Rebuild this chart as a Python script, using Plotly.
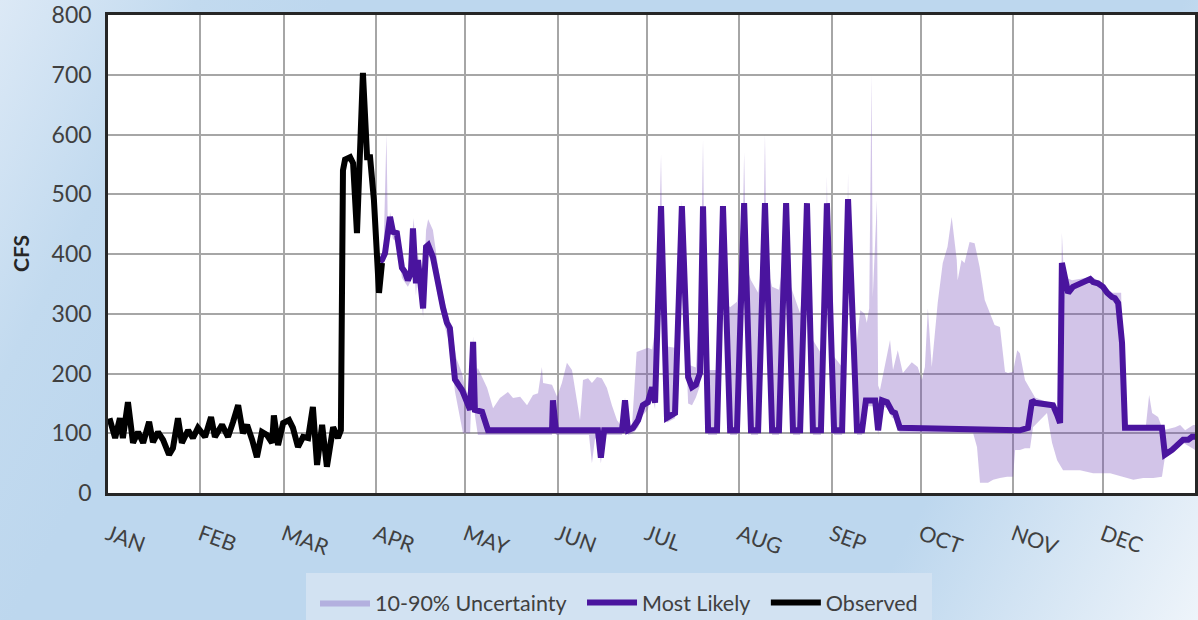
import base64
import plotly.graph_objects as go

# ---------------- data (day of year, CFS) ----------------
MONTH_START = [0, 31, 59, 90, 120, 151, 181, 212, 243, 273, 304, 334]
MONTHS = ["JAN", "FEB", "MAR", "APR", "MAY", "JUN", "JUL", "AUG", "SEP", "OCT", "NOV", "DEC"]

obs_day = [0.5, 2.4, 4.0, 5.0, 6.7, 8.4, 10.1, 11.8, 13.8, 15.1, 16.8, 18.5, 20.5, 21.8, 23.5,
           24.8, 26.9, 28.5, 30.2, 32.6, 34.6, 35.9, 38.3, 40.3, 42.0, 43.7, 45.3, 46.7, 48.4,
           50.0, 51.7, 53.4, 55.1, 55.7, 57.1, 58.8, 60.8, 62.1, 63.8, 65.5, 67.2, 68.8, 70.2,
           71.9, 73.5, 75.6, 77.2, 78.2, 78.9, 79.6, 81.3, 82.3, 83.6, 85.6, 87.0, 88.0, 89.3,
           90.3, 91.0, 92.0]
obs_cfs = [125, 92, 125, 92, 152, 84, 102, 84, 119, 85, 102, 89, 64, 75, 125,
           84, 105, 92, 109, 94, 127, 94, 114, 94, 119, 147, 100, 114, 89,
           60, 102, 97, 84, 130, 80, 117, 122, 109, 77, 94, 92, 144, 47,
           114, 44, 110, 92, 105, 540, 558, 562, 552, 435, 703, 562, 562, 490,
           368, 335, 385]

ml_day = [91.3, 92.0, 93.0, 94.7, 95.7, 97.0, 98.7, 99.7, 100.7, 101.7,
          102.4, 103.4, 104.1, 105.8, 106.8, 107.5, 109.1, 110.8, 112.5, 113.8,
          114.8, 116.0, 116.5, 118.9, 120.6, 121.6, 122.6, 123.2, 125.6, 127.6,
          149.1, 149.4, 150.4, 164.5, 165.5, 166.6, 172.6, 173.6, 174.6, 176.3,
          178.0, 179.6, 181.3, 182.7, 183.7, 185.7, 187.7, 190.4, 192.7, 194.8,
          196.1, 197.4, 198.8, 199.8, 201.5, 204.5, 206.5, 208.9, 211.2, 213.6,
          215.9, 218.3, 220.6, 223.0, 225.3, 227.7, 230.0, 232.4, 234.7, 236.7,
          239.4, 241.4, 243.8, 246.5, 248.5, 251.5, 253.2, 254.5, 257.6, 258.6,
          259.9, 261.6, 263.3, 264.3, 265.9, 306.2, 308.9, 310.3, 311.3, 317.3,
          318.7, 319.7, 320.3, 322.4, 324.0, 325.4, 327.1, 328.7, 329.8, 330.8,
          332.4, 334.1, 335.5, 337.1, 338.1, 339.2, 340.5, 341.5, 353.9, 354.9,
          357.3, 361.0, 362.7, 364.0, 365.0]
ml_cfs = [387, 390, 401, 462, 437, 435, 377, 370, 356, 368,
          443, 351, 390, 309, 412, 415, 395, 345, 310, 285,
          276, 215, 190, 172, 151, 139, 253, 139, 136, 105,
          105, 155, 105, 105, 59, 105, 105, 155, 105, 109,
          122, 147, 152, 177, 151, 480, 126, 134, 480, 194,
          177, 181, 201, 480, 105, 105, 480, 105, 105, 485,
          105, 105, 485, 105, 105, 485, 105, 105, 485, 105,
          105, 485, 105, 105, 492, 105, 105, 155, 155, 105,
          155, 152, 136, 134, 109, 105, 109, 155, 151, 147,
          131, 117, 385, 335, 345, 348, 350, 353, 358, 353,
          351, 345, 335, 328, 326, 318, 251, 109, 109, 64,
          72, 89, 89, 94, 94]

band_hi_day = [91.3, 92.5, 93.5, 94.0, 94.7, 95.7, 97.0, 98.7, 100.7, 102.0, 102.7, 103.4, 104.1,
               105.8, 106.8, 107.5, 109.1, 110.8, 112.5, 114.0, 115.5, 117.0, 118.9, 120.0, 121.6,
               122.6, 123.2, 124.2, 127.3, 129.3, 131.6, 134.3, 136.0, 138.4, 140.7, 142.7, 144.4,
               145.7, 146.1, 149.1, 150.8, 152.4, 154.1, 155.8, 157.5, 158.5, 159.5, 161.2, 162.5,
               164.2, 165.8, 167.5, 169.2, 170.9, 172.6, 173.6, 174.6, 176.0, 177.5, 181.3, 182.7,
               184.5, 185.7, 186.5, 187.7, 190.4, 192.0, 192.7, 193.5, 194.8, 197.4, 199.0, 199.8,
               200.5, 201.5, 204.5, 206.0, 206.5, 207.2, 208.9, 211.2, 213.0, 213.6, 214.3, 215.9,
               218.3, 220.0, 220.6, 221.2, 223.0, 225.3, 227.2, 227.7, 228.3, 230.0, 232.4, 234.2,
               234.7, 235.3, 236.7, 239.4, 241.0, 241.4, 242.0, 243.8, 246.5, 248.2, 248.5, 249.0,
               250.9, 252.6, 254.1, 254.8, 255.6, 256.4, 256.8, 258.2, 258.6, 259.2, 262.6, 263.6,
               265.2, 266.9, 269.9, 271.9, 273.3, 274.3, 275.3, 276.6, 278.6, 280.3, 281.9, 283.3,
               285.0, 285.3, 286.6, 287.6, 289.3, 291.0, 292.7, 294.4, 296.1, 297.7, 299.5, 301.2,
               302.2, 303.9, 305.3, 306.2, 307.9, 310.3, 311.3, 313.9, 317.3, 319.7, 320.3, 321.0,
               323.7, 330.4, 333.7, 337.1, 340.2, 340.6, 341.0, 341.5, 348.5, 349.6, 350.6, 352.6,
               354.3, 358.3, 360.0, 361.7, 363.4, 364.4, 365.0]
band_hi_cfs = [392, 400, 600, 430, 470, 445, 440, 385, 365, 420, 460, 360, 400,
               320, 440, 458, 440, 380, 330, 300, 270, 225, 200, 175, 160,
               262, 200, 209, 176, 142, 159, 169, 159, 161, 147, 164, 167,
               211, 184, 181, 161, 184, 218, 206, 152, 122, 189, 192, 184,
               194, 192, 176, 147, 122, 110, 160, 112, 115, 236, 243, 240,
               300, 566, 300, 245, 243, 400, 490, 300, 215, 210, 350, 590,
               300, 206, 206, 380, 485, 320, 311, 320, 400, 570, 380, 356,
               335, 400, 600, 380, 345, 340, 400, 490, 360, 335, 301, 380,
               490, 300, 256, 234, 380, 530, 300, 228, 211, 400, 535, 300,
               228, 306, 300, 285, 309, 700, 328, 490, 180, 172, 256, 206,
               239, 201, 219, 211, 189, 211, 309, 211, 318, 385, 412, 462,
               390, 356, 390, 385, 420, 418, 378, 323, 301, 281, 278, 203,
               201, 203, 239, 234, 189, 169, 160, 155, 150, 130, 435, 362,
               356, 362, 351, 335, 335, 260, 130, 112, 112, 164, 134, 127,
               105, 110, 114, 105, 110, 114, 114]

band_lo_day = [91.3, 92.0, 93.0, 94.7, 95.7, 97.0, 98.7, 100.7, 101.7, 102.4, 103.4, 104.1,
               105.8, 106.8, 107.5, 109.1, 110.8, 112.5, 113.8, 114.8, 116.5, 117.8, 119.2,
               121.6, 122.6, 123.2, 124.2, 149.1, 149.4, 150.4, 161.5, 162.5, 163.5, 164.5,
               165.5, 166.6, 172.6, 173.6, 174.6, 176.3, 178.0, 179.6, 181.3, 182.7, 183.7,
               185.7, 187.7, 190.4, 192.7, 194.8, 196.1, 197.4, 198.8, 199.8, 201.5, 204.5,
               206.5, 208.9, 211.2, 213.6, 215.9, 218.3, 220.6, 223.0, 225.3, 227.7, 230.0,
               232.4, 234.7, 236.7, 239.4, 241.4, 243.8, 246.5, 248.5, 251.5, 253.2, 254.5,
               257.6, 258.6, 259.9, 261.6, 263.3, 264.3, 265.9, 290.5, 291.8, 292.8, 295.5,
               297.2, 299.5, 301.9, 303.9, 304.6, 306.2, 307.9, 309.6, 310.6, 313.0, 315.3,
               317.0, 318.7, 320.7, 326.4, 330.8, 333.1, 336.5, 340.9, 344.3, 347.6, 351.0,
               353.9, 354.9, 356.6, 360.0, 361.0, 362.4, 364.4, 365.0]
band_lo_cfs = [380, 383, 390, 445, 425, 420, 360, 345, 355, 420, 330, 375,
               295, 395, 400, 380, 330, 290, 265, 250, 170, 140, 100,
               100, 240, 130, 97, 97, 150, 97, 97, 50, 90, 97,
               50, 97, 97, 150, 97, 100, 110, 130, 140, 165, 140,
               420, 118, 125, 420, 150, 147, 160, 180, 420, 97, 97,
               420, 97, 97, 420, 97, 97, 420, 97, 97, 420, 97,
               97, 420, 97, 97, 420, 97, 97, 420, 97, 97, 145,
               145, 97, 145, 142, 126, 124, 100, 100, 77, 17, 17,
               22, 25, 27, 27, 72, 72, 75, 75, 110, 122, 134,
               84, 55, 38, 38, 33, 33, 33, 27, 22, 25, 25,
               27, 60, 65, 80, 84, 80, 74, 72]

# ---------------- styling ----------------
FONT = "Lato"
TXT = "#404040"
GRID = "#a6a6a6"
LEG_BG = "#d2e2f2"

L, R, T, B = 108, 3, 15, 127
W, H = 1198, 620
pw, ph = W - L - R, H - T - B

svg = (
    f'<svg xmlns="http://www.w3.org/2000/svg" width="{W}" height="{H}">'
    f'<defs><linearGradient id="g" gradientUnits="userSpaceOnUse" x1="0" y1="0" x2="{W}" y2="{H}">'
    '<stop offset="0" stop-color="#dce9f6"/>'
    '<stop offset="0.13" stop-color="#c2daef"/>'
    '<stop offset="0.22" stop-color="#bdd7ee"/>'
    '<stop offset="0.78" stop-color="#bdd7ee"/>'
    '<stop offset="1" stop-color="#eef4fa"/>'
    '</linearGradient></defs>'
    f'<rect width="{W}" height="{H}" fill="url(#g)"/></svg>'
)
bg_src = "data:image/svg+xml;base64," + base64.b64encode(svg.encode()).decode()

fig = go.Figure()

fig.add_trace(go.Scatter(
    x=band_hi_day + band_lo_day[::-1],
    y=band_hi_cfs + band_lo_cfs[::-1],
    mode="lines", fill="toself", fillcolor="rgba(115,70,185,0.32)",
    line=dict(width=0, color="rgba(115,70,185,0.32)"),
    name="10-90% Uncertainty\u00a0\u00a0", hoverinfo="skip",
))
fig.add_trace(go.Scatter(
    x=ml_day, y=ml_cfs, mode="lines",
    line=dict(color="#4a149e", width=6),
    name="Most Likely\u00a0\u00a0",
))
fig.add_trace(go.Scatter(
    x=obs_day, y=obs_cfs, mode="lines",
    line=dict(color="#000000", width=6),
    name="Observed",
))

fig.update_layout(
    width=W, height=H,
    margin=dict(l=L, r=R, t=T, b=B, autoexpand=False),
    paper_bgcolor="#bdd7ee",
    plot_bgcolor="#ffffff",
    hovermode=False,
    font=dict(family=FONT, color=TXT),
    images=[dict(
        source=bg_src, xref="paper", yref="paper",
        x=-L / pw, y=(ph + T) / ph, sizex=W / pw, sizey=H / ph,
        xanchor="left", yanchor="top", sizing="stretch", layer="below",
    )],
    shapes=[dict(
        type="rect", xref="paper", yref="paper", x0=0, x1=1, y0=0, y1=1,
        fillcolor="#ffffff", line=dict(width=0), layer="below",
    )],
    legend=dict(
        orientation="h", xref="container", yref="container",
        x=619 / W, xanchor="center", y=(H - 573) / H, yanchor="top",
        bgcolor=LEG_BG, bordercolor=LEG_BG, borderwidth=9,
        font=dict(family=FONT, size=21.5, color=TXT),
        itemwidth=50, traceorder="normal",
    ),
    annotations=[dict(
        text="<b>CFS</b>", textangle=-90, xref="paper", yref="paper",
        x=(20 - L) / pw, y=0.5, xanchor="center", yanchor="middle",
        showarrow=False, font=dict(family=FONT, size=21, color="#262626"),
    )],
)

fig.update_xaxes(
    range=[0, 365], tickmode="array", tickvals=MONTH_START, ticktext=MONTHS,
    tickangle=20, ticks="", ticklabelstandoff=18,
    tickfont=dict(family=FONT, size=21.5, color=TXT),
    showgrid=True, gridcolor=GRID, gridwidth=2, zeroline=False,
    showline=True, mirror=True, linecolor="#262626", linewidth=2.5,
    automargin=False, fixedrange=True,
)
fig.update_yaxes(
    range=[0, 800], dtick=100, ticks="", ticklabelstandoff=9,
    tickfont=dict(family=FONT, size=23, color=TXT),
    showgrid=True, gridcolor=GRID, gridwidth=2, zeroline=False,
    showline=True, mirror=True, linecolor="#262626", linewidth=2.5,
    automargin=False, fixedrange=True,
)

fig.write_html(
    "out.html",
    config={"displayModeBar": False},
    post_script="document.body.style.margin='0';document.body.style.overflow='hidden';",
)
